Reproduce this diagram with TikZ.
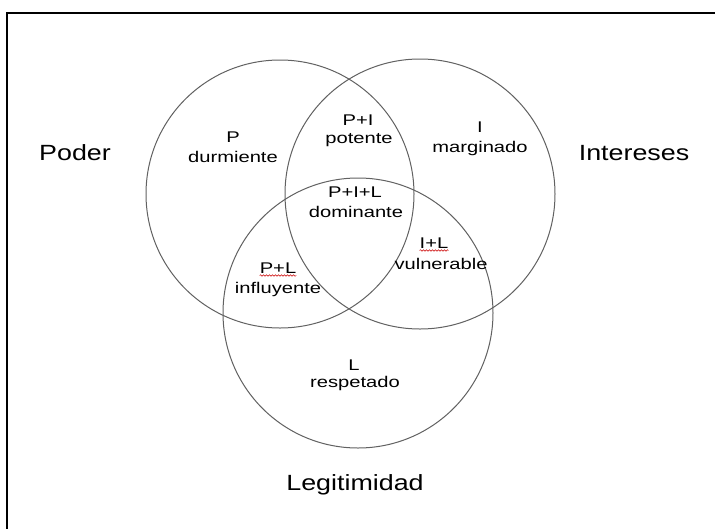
\documentclass[tikz,border=0pt]{standalone}
\usepackage{fontspec}
\setmainfont{Liberation Sans}
\newfontfamily\bigfont{Liberation Sans}[FakeStretch=1.22]
\newfontfamily\smallfont{Liberation Sans}[FakeStretch=1.3]
\usetikzlibrary{decorations.pathmorphing}
\begin{document}
\begin{tikzpicture}[x=1pt,y=-1pt,
  venn/.style={draw=black!62,line width=1pt},
  biglabel/.style={anchor=base,inner sep=0pt,font=\bigfont\fontsize{22}{24}\selectfont},
  smalllabel/.style={anchor=base,inner sep=0pt,font=\smallfont\fontsize{15.5}{17}\selectfont},
  squiggle/.style={draw=red!80!black,line width=0.5pt,decorate,decoration={snake,amplitude=0.8pt,segment length=3pt}}]
\useasboundingbox (0,0) rectangle (715,528);
\fill[white] (0,0) rectangle (715,528);
% frame
\coordinate (fbl) at (7,530);
\coordinate (ftl) at (7,13);
\coordinate (ftr) at (717,13);
\draw[line width=2pt,line join=miter] (fbl) -- (ftl) -- (ftr);
% circles
\coordinate (cP) at (280,194);
\coordinate (cI) at (420,194);
\coordinate (cL) at (358,313);
\draw[venn] (cP) circle[radius=134];
\draw[venn] (cI) circle[radius=135];
\draw[venn] (cL) circle[radius=135];
% outer labels
\node[biglabel] (poder) at (75,160) {Poder};
\node[biglabel] (intereses) at (634,160) {Intereses};
\node[biglabel] (legit) at (355,490) {Legitimidad};
% region labels
\node[smalllabel] (p1) at (233,142) {P};
\node[smalllabel] (p2) at (233,162) {durmiente};
\node[smalllabel] (pi1) at (358,125) {P+I};
\node[smalllabel] (pi2) at (359,143) {potente};
\node[smalllabel] (i1) at (480,132) {I};
\node[smalllabel] (i2) at (480,152) {marginado};
\node[smalllabel] (pil1) at (355,197) {P+I+L};
\node[smalllabel] (pil2) at (356,217) {dominante};
\node[smalllabel] (pl1) at (278,273) {P+L};
\node[smalllabel] (pl2) at (278,293) {influyente};
\node[smalllabel] (il1) at (434,248) {I+L};
\node[smalllabel] (il2) at (441,269) {vulnerable};
\node[smalllabel] (l1) at (354,370) {L};
\node[smalllabel] (l2) at (355,387) {respetado};
% spell-check squiggles
\draw[squiggle] ([yshift=-2.5pt]pl1.base west) -- ([yshift=-2.5pt]pl1.base east);
\draw[squiggle] ([yshift=-2.5pt]il1.base west) -- ([yshift=-2.5pt]il1.base east);
\end{tikzpicture}
\end{document}
